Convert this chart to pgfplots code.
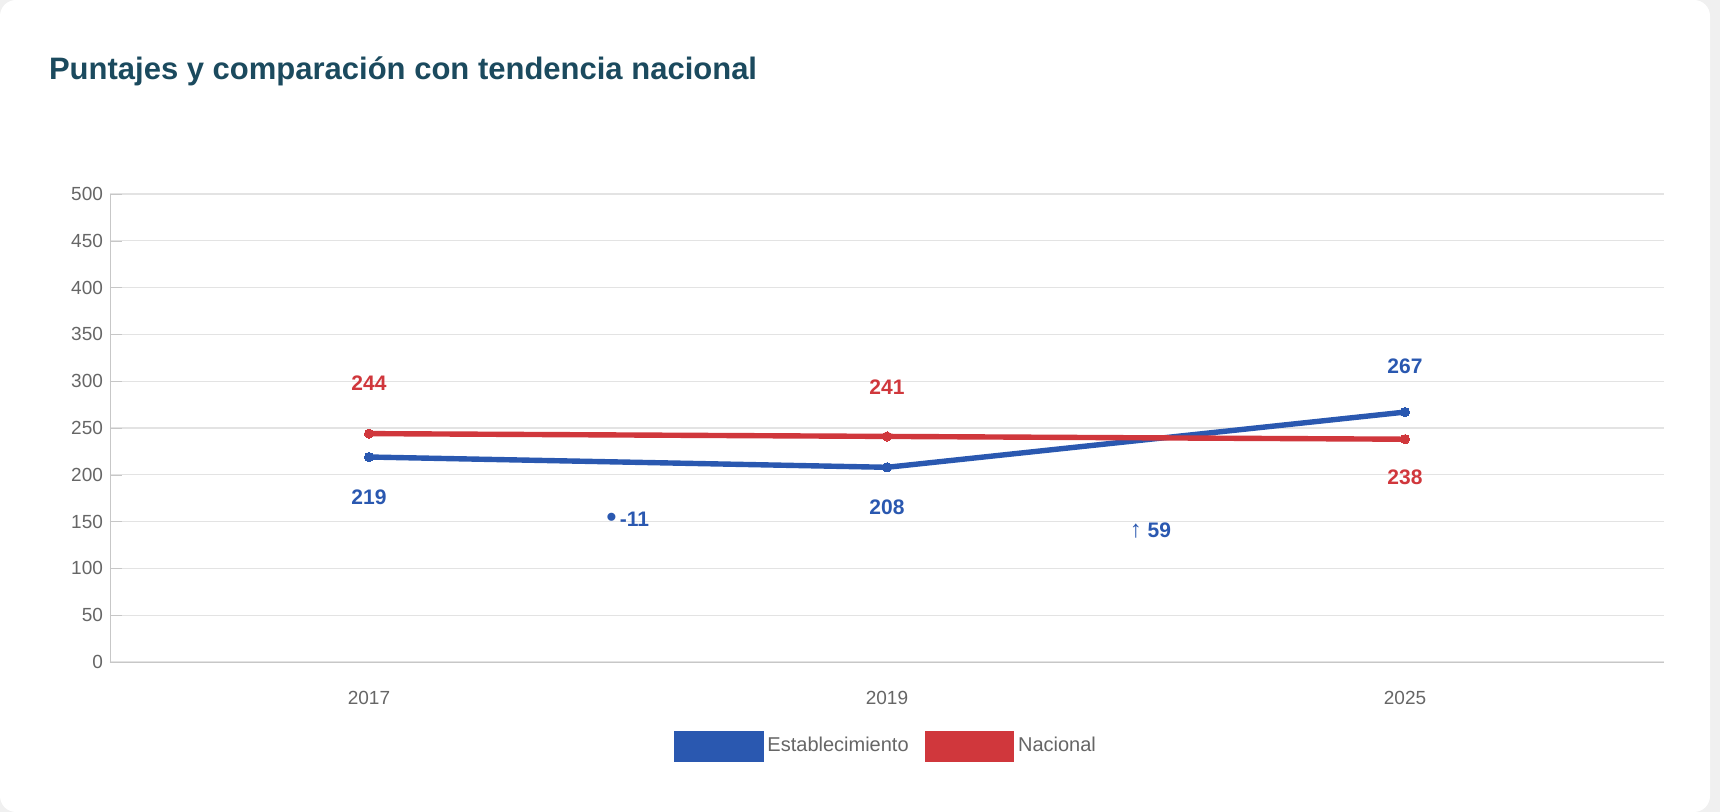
\documentclass[border=0pt]{standalone}
\usepackage{pgfplots}
\pgfplotsset{compat=1.18}
\usepackage{fontspec}
\setmainfont{Liberation Sans}
\definecolor{cblue}{HTML}{2A58B0}
\definecolor{cred}{HTML}{D0373C}
\definecolor{ctitle}{HTML}{1B4A5E}
\definecolor{cgrid}{HTML}{E3E3E3}
\definecolor{ctick}{HTML}{666666}
\begin{document}
\begin{tikzpicture}
\fill[gray!12] (0,0) rectangle (860pt,406pt);
\fill[white,rounded corners=8pt] (0,0) rectangle (855pt,406pt);
\path[use as bounding box] (0,0) rectangle (860pt,406pt);
\node[anchor=base west,text=ctitle,font=\bfseries\fontsize{15.5}{18}\selectfont] at (21pt,366pt) {Puntajes y comparación con tendencia nacional};
\begin{axis}[at={(55pt,75pt)},anchor=south west,scale only axis,width=777pt,height=234pt,
 xmin=-0.5,xmax=2.5,ymin=0,ymax=500,ytick={0,50,...,500},
 xtick={0,1,2},xticklabels={2017,2019,2025},
 axis lines*=left, axis line style={draw=black!22},
 ymajorgrids, grid style={cgrid,line width=0.6pt},
 tick style={draw=black!22}, major tick length=6pt, xtick style={draw=none},
 tick label style={font=\fontsize{9.5}{10}\selectfont,text=ctick},
 xticklabel style={yshift=-11pt},
 /pgf/number format/assume math mode=true,
 legend style={at={(0.5,-0.18)},anchor=center,draw=none,legend columns=2,font=\fontsize{10}{12}\selectfont,text=ctick,/tikz/every even column/.append style={column sep=6pt},nodes={inner xsep=2pt}},
 legend image code/.code={\fill[#1] (0pt,-6.5pt) rectangle (42pt,6.5pt);},
 clip=false]
\addplot[cblue,line width=2.7pt,mark=*,mark size=2.3pt,mark options={fill=cblue,line width=0pt}] coordinates {(0,219)(1,208)(2,267)};
\addlegendentry{Establecimiento}
\addplot[cred,line width=2.7pt,mark=*,mark size=2.3pt,mark options={fill=cred,line width=0pt}] coordinates {(0,244)(1,241)(2,238)};
\addlegendentry{Nacional}
\begin{scope}[font=\bfseries\fontsize{10.5}{12}\selectfont]
\node[text=cblue] at (axis cs:0,176) {219};
\node[text=cblue] at (axis cs:1,165) {208};
\node[text=cblue] at (axis cs:2,316) {267};
\node[text=cred] at (axis cs:0,298) {244};
\node[text=cred] at (axis cs:1,294) {241};
\node[text=cred] at (axis cs:2,197) {238};
\node[text=cblue,anchor=west] at (axis cs:0.445,152) {{\fontsize{14}{12}\selectfont •}\,-11};
\node[text=cblue,anchor=west] at (axis cs:1.455,140) {{\mdseries\fontsize{12}{12}\selectfont ↑}\ 59};
\end{scope}
\end{axis}
\end{tikzpicture}
\end{document}
